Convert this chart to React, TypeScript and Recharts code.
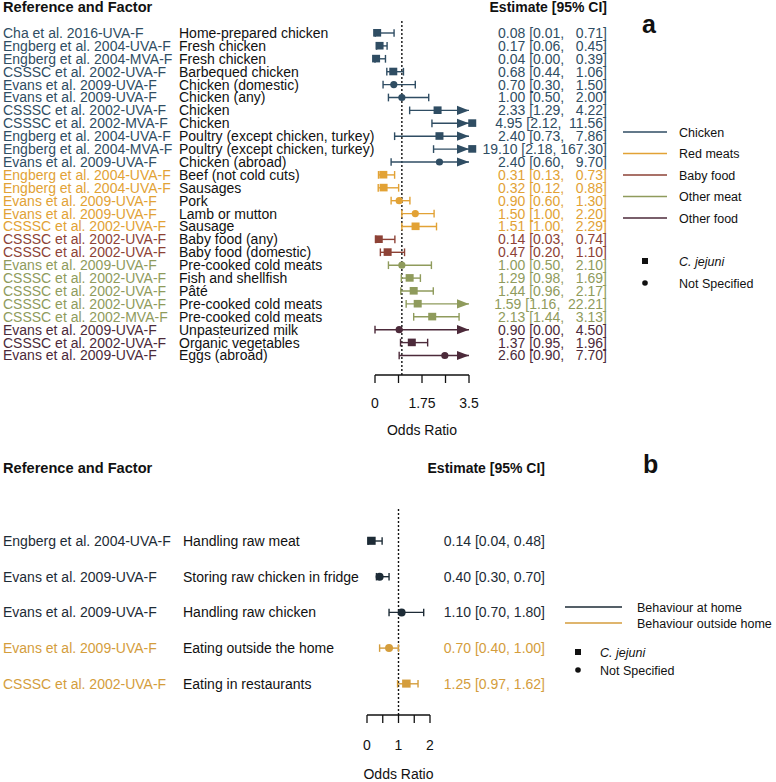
import React from 'react';
import { ComposedChart, Scatter, XAxis, YAxis, ReferenceLine } from 'recharts';

const FONT = '"Liberation Sans", Arial, Helvetica, sans-serif';
const INK = '#111111';

// ---------- Panel a data ----------
const groupNamesA = ['Chicken', 'Red meats', 'Baby food', 'Other meat', 'Other food'];
const groupColorsA = ['#2f4d63', '#e2a235', '#8d4236', '#8f9b5c', '#4c2a3a'];
const referencesA = [
  'Cha et al. 2016-UVA-F', 'Engberg et al. 2004-UVA-F', 'Engberg et al. 2004-MVA-F', 'CSSSC et al. 2002-UVA-F',
  'Evans et al. 2009-UVA-F', 'Evans et al. 2009-UVA-F', 'CSSSC et al. 2002-UVA-F', 'CSSSC et al. 2002-MVA-F',
  'Engberg et al. 2004-UVA-F', 'Engberg et al. 2004-MVA-F', 'Evans et al. 2009-UVA-F',
  'Engberg et al. 2004-UVA-F', 'Engberg et al. 2004-UVA-F', 'Evans et al. 2009-UVA-F', 'Evans et al. 2009-UVA-F',
  'CSSSC et al. 2002-UVA-F',
  'CSSSC et al. 2002-UVA-F', 'CSSSC et al. 2002-UVA-F',
  'Evans et al. 2009-UVA-F', 'CSSSC et al. 2002-UVA-F', 'CSSSC et al. 2002-UVA-F', 'CSSSC et al. 2002-UVA-F',
  'CSSSC et al. 2002-MVA-F',
  'Evans et al. 2009-UVA-F', 'CSSSC et al. 2002-UVA-F', 'Evans et al. 2009-UVA-F',
];
const factorsA = [
  'Home-prepared chicken', 'Fresh chicken', 'Fresh chicken', 'Barbequed chicken', 'Chicken (domestic)',
  'Chicken (any)', 'Chicken', 'Chicken', 'Poultry (except chicken, turkey)', 'Poultry (except chicken, turkey)',
  'Chicken (abroad)',
  'Beef (not cold cuts)', 'Sausages', 'Pork', 'Lamb or mutton', 'Sausage',
  'Baby food (any)', 'Baby food (domestic)',
  'Pre-cooked cold meats', 'Fish and shellfish', 'Pâté', 'Pre-cooked cold meats', 'Pre-cooked cold meats',
  'Unpasteurized milk', 'Organic vegetables', 'Eggs (abroad)',
];
const estimatesA = [0.08, 0.17, 0.04, 0.68, 0.70, 1.00, 2.33, 4.95, 2.40, 19.10, 2.40, 0.31, 0.32, 0.90, 1.50, 1.51, 0.14, 0.47, 1.00, 1.29, 1.44, 1.59, 2.13, 0.90, 1.37, 2.60];
const lowersA = [0.01, 0.06, 0.00, 0.44, 0.30, 0.50, 1.29, 2.12, 0.73, 2.18, 0.60, 0.13, 0.12, 0.60, 1.00, 1.00, 0.03, 0.20, 0.50, 0.98, 0.96, 1.16, 1.44, 0.00, 0.95, 0.90];
const uppersA = [0.71, 0.45, 0.39, 1.06, 1.50, 2.00, 4.22, 11.56, 7.86, 167.30, 9.70, 0.73, 0.88, 1.30, 2.20, 2.29, 0.74, 1.10, 2.10, 1.69, 2.17, 22.21, 3.13, 4.50, 1.96, 7.70];
const groupOfA = [0, 0, 0, 0, 0, 0, 0, 0, 0, 0, 0, 1, 1, 1, 1, 1, 2, 2, 3, 3, 3, 3, 3, 4, 4, 4];
const organismA = ['s', 's', 's', 's', 'c', 'c', 's', 's', 's', 's', 'c', 's', 's', 'c', 'c', 's', 's', 's', 'c', 's', 's', 's', 's', 'c', 's', 'c'];
const ticksA = [0, 0.875, 1.75, 2.625, 3.5];
const tickLabelsA = [0, 1.75, 3.5];

// ---------- Panel b data ----------
const groupNamesB = ['Behaviour at home', 'Behaviour outside home'];
const groupColorsB = ['#1d2b36', '#d49d3c'];
const referencesB = ['Engberg et al. 2004-UVA-F', 'Evans et al. 2009-UVA-F', 'Evans et al. 2009-UVA-F', 'Evans et al. 2009-UVA-F', 'CSSSC et al. 2002-UVA-F'];
const factorsB = ['Handling raw meat', 'Storing raw chicken in fridge', 'Handling raw chicken', 'Eating outside the home', 'Eating in restaurants'];
const estimatesB = [0.14, 0.40, 1.10, 0.70, 1.25];
const lowersB = [0.04, 0.30, 0.70, 0.40, 0.97];
const uppersB = [0.48, 0.70, 1.80, 1.00, 1.62];
const groupOfB = [0, 0, 0, 1, 1];
const organismB = ['s', 'c', 'c', 'c', 's'];
const ticksB = [0, 0.5, 1, 1.5, 2];
const tickLabelsB = [0, 1, 2];

const organismNames = ['C. jejuni', 'Not Specified'];

type Row = { i: number; ref: string; factor: string; est: number; lo: number; hi: number; color: string; shape: string };

const buildRows = (refs: string[], factors: string[], est: number[], lo: number[], hi: number[], grp: number[], colors: string[], org: string[]): Row[] =>
  refs.map((ref, i) => ({ i, ref, factor: factors[i], est: est[i], lo: lo[i], hi: hi[i], color: colors[grp[i]], shape: org[i] }));

const rowsA = buildRows(referencesA, factorsA, estimatesA, lowersA, uppersA, groupOfA, groupColorsA, organismA);
const rowsB = buildRows(referencesB, factorsB, estimatesB, lowersB, uppersB, groupOfB, groupColorsB, organismB);

const cfgA = {
  width: 776, height: 440, x0: 375, pxu: 26.86, xMin: -0.3, xMax: 3.8, axisMax: 3.5, clampAt: 3.62,
  plotTop: 20, plotBottom: 375, firstRowY: 33, rowH: 12.9,
  ticks: ticksA, tickLabels: tickLabelsA, tickMargin: 15, labelOffset: 5,
  refX: 3, factorX: 179, estX: 607, sq: 8, r: 3.6, capHalf: 0.3, arrowLen: 12, arrowHalf: 4.6,
};
const cfgB = {
  width: 776, height: 342, x0: 367, pxu: 31.5, xMin: -0.3, xMax: 2.3, axisMax: 2, clampAt: 2.2,
  plotTop: 67, plotBottom: 275, firstRowY: 101, rowH: 35.7,
  ticks: ticksB, tickLabels: tickLabelsB, tickMargin: 17, labelOffset: 3,
  refX: 3, factorX: 183, estX: 545, sq: 8.5, r: 4, capHalf: 0.105, arrowLen: 12, arrowHalf: 4.6,
};

function Forest({ rows, cfg }: { rows: Row[]; cfg: any }) {
  const c = cfg;
  const plotLeft = c.x0 + c.xMin * c.pxu;
  const plotRight = c.x0 + c.xMax * c.pxu;
  const rowMin = (c.plotTop - c.firstRowY) / c.rowH;
  const rowMax = (c.plotBottom - c.firstRowY) / c.rowH;
  const xAxisH = c.height - c.plotBottom;
  const hiWidth = Math.max(...rows.map((r) => r.hi.toFixed(2).length));
  const estText = (r: Row) => `${r.est.toFixed(2)} [${r.lo.toFixed(2)}, ${r.hi.toFixed(2).padStart(hiWidth, ' ')}]`;

  const points = rows.map((r) => ({ x: Math.min(r.est, c.clampAt), y: r.i, color: r.color, shape: r.shape }));
  const arrows = rows.filter((r) => r.hi > c.axisMax).map((r) => ({ x: c.axisMax, y: r.i, color: r.color }));

  const renderTick = (p: any) => {
    const r = rows[Math.round(p.payload.value)];
    if (!r) return <g />;
    const y = p.y;
    return (
      <g key={'t' + r.i}>
        <text x={c.refX} y={y} dy="0.35em" fill={r.color} fontSize={14} fontFamily={FONT}>{r.ref}</text>
        <text x={c.factorX} y={y} dy="0.35em" fill={INK} fontSize={14} fontFamily={FONT}>{r.factor}</text>
        <text x={c.estX} y={y} dy="0.35em" fill={r.color} fontSize={14} fontFamily={FONT} textAnchor="end" style={{ whiteSpace: 'pre' }}>{estText(r)}</text>
      </g>
    );
  };

  const markerShape = (p: any) => {
    const { cx, cy, payload } = p;
    if (payload.shape === 's') {
      return <rect x={cx - c.sq / 2} y={cy - c.sq / 2} width={c.sq} height={c.sq * 0.95} fill={payload.color} />;
    }
    return <circle cx={cx} cy={cy} r={c.r} fill={payload.color} />;
  };
  const arrowShape = (p: any) => {
    const { cx, cy, payload } = p;
    return (
      <polygon
        points={`${cx},${cy} ${cx - c.arrowLen},${cy - c.arrowHalf} ${cx - c.arrowLen},${cy + c.arrowHalf}`}
        fill={payload.color}
      />
    );
  };

  return (
    <ComposedChart width={c.width} height={c.height} margin={{ top: c.plotTop, right: c.width - plotRight, bottom: 0, left: 0 }}>
      <XAxis
        type="number"
        dataKey="x"
        domain={[c.xMin, c.xMax]}
        allowDataOverflow
        ticks={c.ticks}
        interval={0}
        tickFormatter={(v: number) => (c.tickLabels.includes(v) ? String(v) : '')}
        tickSize={8}
        tickMargin={c.tickMargin}
        axisLine={false}
        tickLine={{ stroke: INK, strokeWidth: 1.3 }}
        tick={{ fill: INK, fontSize: 14, fontFamily: FONT }}
        height={xAxisH}
        label={{ value: 'Odds Ratio', position: 'insideBottom', offset: c.labelOffset, fill: INK, fontSize: 14, fontFamily: FONT }}
      />
      <YAxis
        type="number"
        dataKey="y"
        domain={[rowMin, rowMax]}
        allowDataOverflow
        reversed
        ticks={rows.map((r) => r.i)}
        interval={0}
        width={plotLeft}
        axisLine={false}
        tickLine={false}
        tick={renderTick}
      />
      <ReferenceLine x={1} stroke={INK} strokeDasharray="2 2" strokeWidth={1.4} ifOverflow="visible" />
      <ReferenceLine segment={[{ x: 0, y: rowMax }, { x: c.axisMax, y: rowMax }]} stroke={INK} strokeWidth={1.3} ifOverflow="visible" />
      {rows.map((r) => (
        <ReferenceLine
          key={'ci' + r.i}
          segment={[{ x: r.lo, y: r.i }, { x: Math.min(r.hi, c.axisMax), y: r.i }]}
          stroke={r.color}
          strokeWidth={1.4}
          ifOverflow="visible"
        />
      ))}
      {rows.map((r) => (
        <ReferenceLine
          key={'capl' + r.i}
          segment={[{ x: r.lo, y: r.i - c.capHalf }, { x: r.lo, y: r.i + c.capHalf }]}
          stroke={r.color}
          strokeWidth={1.4}
          ifOverflow="visible"
        />
      ))}
      {rows.filter((r) => r.hi <= c.axisMax).map((r) => (
        <ReferenceLine
          key={'capr' + r.i}
          segment={[{ x: r.hi, y: r.i - c.capHalf }, { x: r.hi, y: r.i + c.capHalf }]}
          stroke={r.color}
          strokeWidth={1.4}
          ifOverflow="visible"
        />
      ))}
      <Scatter data={arrows} shape={arrowShape} isAnimationActive={false} />
      <Scatter data={points} shape={markerShape} isAnimationActive={false} />
    </ComposedChart>
  );
}

function Overlay() {
  const legA = groupNamesA.map((n, i) => ({ n, color: groupColorsA[i], y: 132 + 21.5 * i }));
  const legB = groupNamesB.map((n, i) => ({ n, color: groupColorsB[i], y: 607 + 16 * i }));
  return (
    <svg width={776} height={782} style={{ position: 'absolute', left: 0, top: 0, pointerEvents: 'none' }}>
      <g fontFamily={FONT} fill={INK}>
        <text x={3} y={12} fontSize={14.6} fontWeight="bold">Reference and Factor</text>
        <text x={607} y={12} fontSize={14} fontWeight="bold" textAnchor="end">Estimate [95% CI]</text>
        <text x={642} y={33} fontSize={25} fontWeight="bold">a</text>
        {legA.map((l) => (
          <g key={l.n}>
            <line x1={623} x2={667} y1={l.y} y2={l.y} stroke={l.color} strokeWidth={1.5} />
            <text x={679} y={l.y + 4.5} fontSize={12.5}>{l.n}</text>
          </g>
        ))}
        <rect x={642} y={258} width={6} height={6} fill={INK} />
        <text x={679} y={265.5} fontSize={12.5} fontStyle="italic">{organismNames[0]}</text>
        <circle cx={645} cy={283} r={2.8} fill={INK} />
        <text x={679} y={287.5} fontSize={12.5}>{organismNames[1]}</text>

        <text x={3} y={473} fontSize={14.6} fontWeight="bold">Reference and Factor</text>
        <text x={545} y={473} fontSize={14} fontWeight="bold" textAnchor="end">Estimate [95% CI]</text>
        <text x={643} y={473} fontSize={25} fontWeight="bold">b</text>
        {legB.map((l) => (
          <g key={l.n}>
            <line x1={565} x2={622} y1={l.y} y2={l.y} stroke={l.color} strokeWidth={1.5} />
            <text x={637} y={l.y + 4.5} fontSize={12.5}>{l.n}</text>
          </g>
        ))}
        <rect x={575} y={649} width={6} height={6} fill={INK} />
        <text x={600} y={656.5} fontSize={12.5} fontStyle="italic">{organismNames[0]}</text>
        <circle cx={578} cy={670} r={2.8} fill={INK} />
        <text x={600} y={674.5} fontSize={12.5}>{organismNames[1]}</text>
      </g>
    </svg>
  );
}

export default function App() {
  return (
    <div style={{ position: 'absolute', left: 0, top: 0, width: 776, height: 782, background: '#fff', fontFamily: FONT }}>
      <div style={{ position: 'absolute', left: 0, top: 0 }}>
        <Forest rows={rowsA} cfg={cfgA} />
      </div>
      <div style={{ position: 'absolute', left: 0, top: 440 }}>
        <Forest rows={rowsB} cfg={cfgB} />
      </div>
      <Overlay />
    </div>
  );
}
